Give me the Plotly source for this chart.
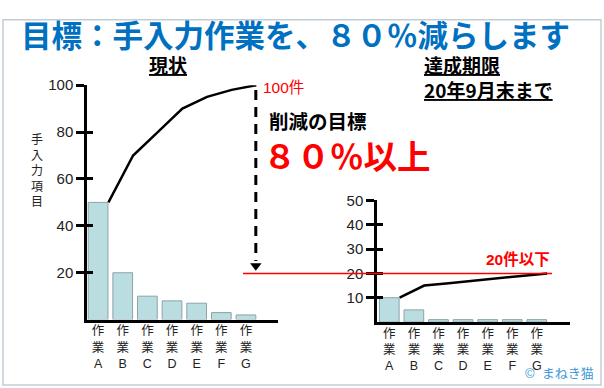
import plotly.graph_objects as go

# ---- data ----
CATEGORIES = ["A", "B", "C", "D", "E", "F", "G"]
TICK_LABELS = ["作<br>業<br>" + c for c in CATEGORIES]
NOW_VALUES = [50, 20, 10, 8, 7, 3, 2]
NOW_CUMULATIVE = [50, 70, 80, 90, 95, 98, 100]
GOAL_VALUES = [10, 5, 1, 1, 1, 1, 1]
GOAL_CUMULATIVE = [10, 15, 16, 17, 18, 19, 20]
LEFT_TICKS = [20, 40, 60, 80, 100]
RIGHT_TICKS = [10, 20, 30, 40, 50]
TOTAL_NOW = 100
TARGET = 20

W, H = 604, 388
def px(x):
    return x / W
def py(y):
    return 1 - y / H

BAR_FILL = "#b9dde1"
BAR_LINE = "#8fa3a6"
RED = "#ff0000"
BLUE = "#0070c0"
LAT = "Liberation Sans, Arial, Noto Sans CJK JP"
JP = "Noto Sans CJK JP"

xpos = list(range(len(CATEGORIES)))
xline = [i + 0.42 for i in xpos]

fig = go.Figure()
fig.add_trace(go.Bar(x=xpos, y=NOW_VALUES, width=0.8, marker=dict(color=BAR_FILL, line=dict(color=BAR_LINE, width=1)),
                     xaxis="x", yaxis="y", showlegend=False))
fig.add_trace(go.Scatter(x=xline, y=NOW_CUMULATIVE, mode="lines", line=dict(color="black", width=2.5),
                         xaxis="x", yaxis="y", showlegend=False))
fig.add_trace(go.Bar(x=xpos, y=GOAL_VALUES, width=0.8, marker=dict(color=BAR_FILL, line=dict(color=BAR_LINE, width=1)),
                     xaxis="x2", yaxis="y2", showlegend=False))
fig.add_trace(go.Scatter(x=xline, y=GOAL_CUMULATIVE, mode="lines", line=dict(color="black", width=2.5),
                         xaxis="x2", yaxis="y2", showlegend=False))
# arrow head of the reduction arrow
fig.add_trace(go.Scatter(x=[xline[-1] - 0.02], y=[TARGET + 3], mode="markers",
                         marker=dict(symbol="triangle-down", size=10, color="black"),
                         xaxis="x", yaxis="y", showlegend=False, hoverinfo="skip"))
# empty traces so the inner-tick overlay axes are drawn
fig.add_trace(go.Scatter(x=[None], y=[None], xaxis="x", yaxis="y3", showlegend=False))
fig.add_trace(go.Scatter(x=[None], y=[None], xaxis="x2", yaxis="y4", showlegend=False))

xax = dict(showline=True, linecolor="black", linewidth=2.5, showgrid=False, zeroline=False,
           tickvals=xpos, ticktext=TICK_LABELS, ticks="", tickfont=dict(family=LAT, size=12.5, color="#222"),
           ticklabelstandoff=-2, fixedrange=True)
yax = dict(showline=True, linecolor="black", linewidth=2.5, showgrid=False, zeroline=False,
           ticks="outside", ticklen=8, tickwidth=2.5, tickcolor="black",
           tickfont=dict(family=LAT, size=15, color="#222"), fixedrange=True)
yin = dict(showline=False, showgrid=False, zeroline=False, showticklabels=False,
           ticks="inside", ticklen=6, tickwidth=2.5, tickcolor="black", fixedrange=True)

fig.update_layout(
    width=W, height=H, margin=dict(l=0, r=0, t=0, b=0),
    paper_bgcolor="white", plot_bgcolor="rgba(0,0,0,0)",
    bargap=0.2,
    xaxis=dict(xax, domain=[px(87), px(278)], range=[-0.45, 7.3], anchor="y"),
    yaxis=dict(yax, domain=[py(318), py(78)], range=[0, TOTAL_NOW], tickvals=LEFT_TICKS, anchor="x"),
    yaxis3=dict(yin, overlaying="y", range=[0, TOTAL_NOW], tickvals=LEFT_TICKS, anchor="x"),
    xaxis2=dict(xax, domain=[px(377), px(570)], range=[-0.5, 7.35], anchor="y2"),
    yaxis2=dict(yax, domain=[py(320.5), py(196)], range=[0, 50], tickvals=RIGHT_TICKS, anchor="x2"),
    yaxis4=dict(yin, overlaying="y2", range=[0, 50], tickvals=RIGHT_TICKS, anchor="x2"),
)

shapes = [
    dict(type="rect", xref="paper", yref="paper", x0=px(3), x1=px(601), y0=py(11), y1=py(385),
         line=dict(color="#c3cdd5", width=1.5), layer="below"),
    dict(type="line", xref="paper", yref="y2", x0=px(243), x1=px(552), y0=TARGET, y1=TARGET,
         line=dict(color=RED, width=1.5)),
    dict(type="line", xref="x", yref="y", x0=xline[-1] - 0.02, x1=xline[-1] - 0.02, y0=TOTAL_NOW - 2, y1=TARGET + 5,
         line=dict(color="black", width=3, dash="10px,7px")),
]
fig.update_layout(shapes=shapes)

ann = []
def text(t, x, y, size, color="black", xanchor="left", bold=False, family=JP, yanchor="middle"):
    if bold:
        t = "<b>" + t + "</b>"
    ann.append(dict(text=t, x=px(x), y=py(y), xref="paper", yref="paper", showarrow=False,
                    xanchor=xanchor, yanchor=yanchor, font=dict(family=family, size=size, color=color)))

text("目標：手入力作業を、８０％減らします", 19, 26, 30.5, BLUE, bold=True)
text("<u>現状</u>", 168, 57, 19, bold=True, xanchor="center")
text("<u>達成期限</u>", 422, 57, 19, bold=True)
text("<u>20年9月末まで</u>", 422, 82, 19, bold=True)
text("100件", 261, 80, 15.5, RED, family=LAT)
text("削減の目標", 267, 114, 19.5, bold=True)
text("８０％以上", 261, 149, 33.5, RED, bold=True)
text("20件以下", 484, 256, 15.5, RED, bold=True, family=LAT)
text("手<br>入<br>力<br>項<br>目", 37, 164, 12, "#222", xanchor="center")
text("©  まねき猫", 596, 373, 13, "#3a9ad9", xanchor="right", family=LAT)
fig.update_layout(annotations=ann)

fig.write_html("out.html", config={"displayModeBar": False},
               post_script="document.body.style.margin='0';document.body.style.overflow='hidden';")
